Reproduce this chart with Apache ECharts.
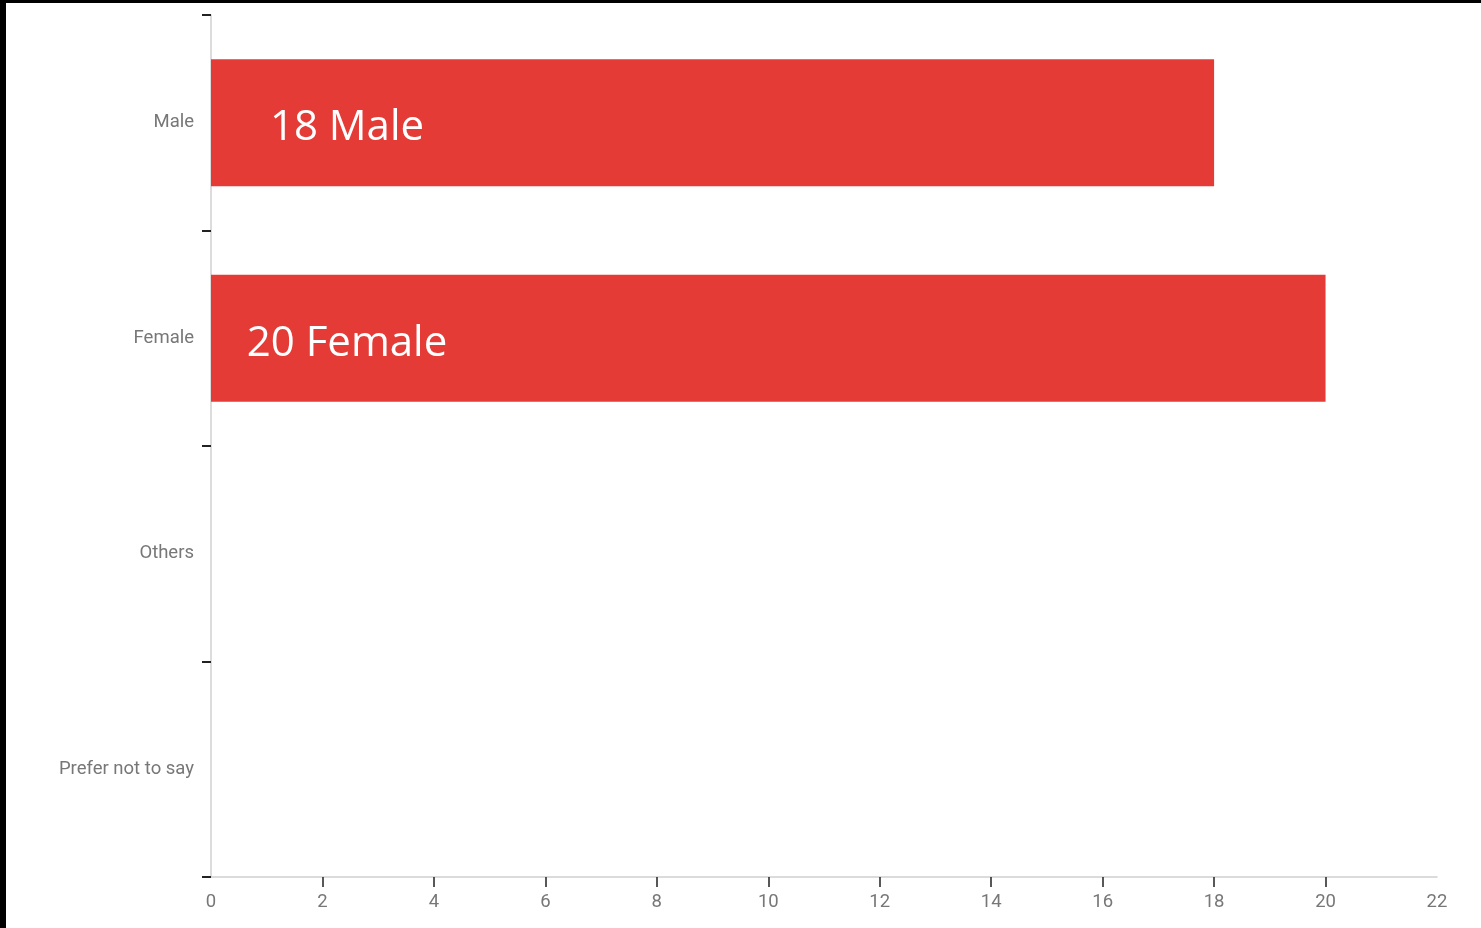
<!DOCTYPE html>
<html>
<head>
<meta charset="utf-8">
<script src="https://cdn.jsdelivr.net/npm/echarts@6/dist/echarts.min.js"></script>
<style>
  html, body { margin: 0; padding: 0; background: #000; }
  #chart { position: absolute; left: 6px; top: 3px; width: 1475px; height: 925px; background: #fff; }
</style>
</head>
<body>
<div id="chart"></div>
<script>
const categories = ['Male', 'Female', 'Others', 'Prefer not to say'];
const counts = [18, 20, 0, 0];
const xTicks = [0, 2, 4, 6, 8, 10, 12, 14, 16, 18, 20, 22];
const xTickMarks = [2, 4, 6, 8, 10, 12, 14, 16, 18, 20];

const chart = echarts.init(document.getElementById('chart'));
chart.setOption({
  animation: false,
  grid: { left: 205, right: 44, top: 12, bottom: 51, containLabel: false },
  xAxis: {
    type: 'value',
    min: 0, max: 22, interval: 2,
    axisLine: { show: true, lineStyle: { color: '#d0d0d0', width: 1.5 } },
    axisTick: { show: true, customValues: xTickMarks, length: 10, lineStyle: { color: '#222', width: 1.5 } },
    axisLabel: { customValues: xTicks, color: '#777', fontFamily: 'Roboto', fontSize: 18.5, margin: 16 },
    splitLine: { show: false }
  },
  yAxis: {
    type: 'category',
    data: categories,
    inverse: true,
    axisLine: { show: true, lineStyle: { color: '#d0d0d0', width: 1.5 } },
    axisTick: { show: true, length: 9, lineStyle: { color: '#222', width: 2 } },
    axisLabel: { color: '#777', fontFamily: 'Roboto', fontSize: 18.5, margin: 17, padding: [4, 0, 0, 0] }
  },
  series: [{
    type: 'bar',
    data: counts,
    barWidth: 127,
    itemStyle: { color: '#e43b37' },
    label: {
      show: true,
      position: [136, 69],
      align: 'center',
      verticalAlign: 'middle',
      color: '#fff',
      fontFamily: 'Open Sans',
      fontSize: 42,
      formatter: p => p.value ? p.value + ' ' + p.name : ''
    }
  }]
});
</script>
</body>
</html>
